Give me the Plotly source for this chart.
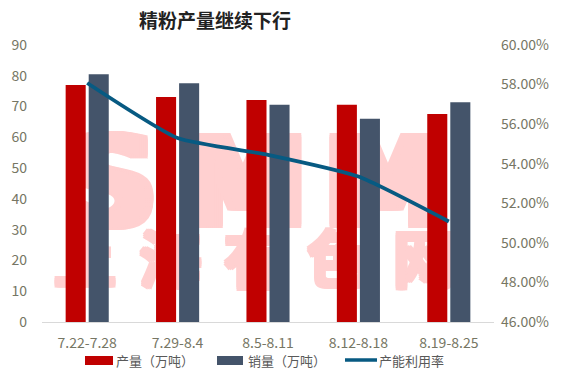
import plotly.graph_objects as go

categories = ["7.22-7.28", "7.29-8.4", "8.5-8.11", "8.12-8.18", "8.19-8.25"]
production = [77.0, 73.1, 72.1, 70.6, 67.6]
sales = [80.5, 77.6, 70.6, 66.0, 71.4]
utilization = [0.5808, 0.5530, 0.5445, 0.5335, 0.5108]

left_ticks = list(range(0, 91, 10))
right_ticks = [0.46, 0.48, 0.50, 0.52, 0.54, 0.56, 0.58, 0.60]

wm_big = ["S", "M", "M"]
wm_small = ["上", "海", "有", "色", "网"]

W, H = 570, 370
L, R, T, B = 42, 76, 45, 48
PW, PH = W - L - R, H - T - B


def px(x):
    return (x - L) / PW


def py(y):
    return (H - B - y) / PH


tick_color = "#767664"
font_cjk = "Noto Sans CJK SC"
c_prod, c_sales, c_line = "#C00000", "#44546A", "#075A82"
wm_color = "#FFD0D0"


def thick_shadow(dx, dy):
    parts = []
    for ox in range(-dx, dx + 1, 2):
        for oy in range(-dy, dy + 1, 2):
            parts.append(f"{ox}px {oy}px 0 {wm_color}")
    return ", ".join(parts)


fig = go.Figure()

# watermark on base (bottom) subplot
fig.add_trace(go.Scatter(
    x=[px(110), px(243), px(388)], y=[py(195)] * 3, mode="text", text=wm_big,
    textfont=dict(family="DejaVu Sans", size=124, color=wm_color, weight="bold",
                  shadow=thick_shadow(8, 2)),
    showlegend=False, hoverinfo="skip", xaxis="x", yaxis="y"))
fig.add_trace(go.Scatter(
    x=[px(85), px(170), px(255), px(338), px(424)], y=[py(267)] * 5, mode="text", text=wm_small,
    textfont=dict(family=font_cjk, size=62, color=wm_color, weight="bold",
                  shadow=thick_shadow(2, 2)),
    showlegend=False, hoverinfo="skip", xaxis="x", yaxis="y"))

fig.add_trace(go.Bar(x=categories, y=production, name="产量（万吨）",
                     marker=dict(color=c_prod, line=dict(width=0)),
                     xaxis="x2", yaxis="y2", showlegend=False))
fig.add_trace(go.Bar(x=categories, y=sales, name="销量（万吨）",
                     marker=dict(color=c_sales, line=dict(width=0)),
                     xaxis="x2", yaxis="y2", showlegend=False))
fig.add_trace(go.Scatter(x=categories, y=utilization, name="产能利用率",
                         mode="lines", line=dict(color=c_line, width=3.8, shape="spline", smoothing=0.5),
                         xaxis="x2", yaxis="y3", showlegend=False))

# custom legend (wide swatches like the reference)
shapes = [
    dict(type="rect", xref="paper", yref="paper", x0=px(85), x1=px(113), y0=py(365), y1=py(356),
         fillcolor=c_prod, line=dict(width=0)),
    dict(type="rect", xref="paper", yref="paper", x0=px(217), x1=px(243), y0=py(365), y1=py(356),
         fillcolor=c_sales, line=dict(width=0)),
    dict(type="line", xref="paper", yref="paper", x0=px(345), x1=px(377), y0=py(360), y1=py(360),
         line=dict(color=c_line, width=3.5)),
]
legend_font = dict(family=font_cjk, size=13, color="#595959")
annotations = [
    dict(text="产量（万吨）", x=px(114), y=py(360), xref="paper", yref="paper",
         xanchor="left", yanchor="middle", showarrow=False, font=legend_font),
    dict(text="销量（万吨）", x=px(246), y=py(360), xref="paper", yref="paper",
         xanchor="left", yanchor="middle", showarrow=False, font=legend_font),
    dict(text="产能利用率", x=px(377), y=py(360), xref="paper", yref="paper",
         xanchor="left", yanchor="middle", showarrow=False, font=legend_font),
]

fig.update_layout(
    width=W, height=H,
    margin=dict(l=L, r=R, t=T, b=B),
    paper_bgcolor="white", plot_bgcolor="white",
    barmode="group", bargap=0.49, bargroupgap=0.13,
    showlegend=False,
    title=dict(text="<b>精粉产量继续下行</b>", x=139 / W, xanchor="left",
               y=1 - 21 / H, yanchor="middle", yref="container",
               font=dict(family=font_cjk, size=19, color="#222222")),
    xaxis=dict(range=[0, 1], visible=False, fixedrange=True),
    yaxis=dict(range=[0, 1], visible=False, fixedrange=True),
    xaxis2=dict(overlaying="x", type="category", showline=True, linecolor="#D9D9D9", linewidth=1,
                showgrid=False, ticks="", automargin=False, ticklabelstandoff=8,
                tickfont=dict(family=font_cjk, size=14, color=tick_color)),
    yaxis2=dict(overlaying="y", side="left", range=[0, 90], tickvals=left_ticks, showgrid=False,
                zeroline=False, showline=False, ticks="", ticklabelstandoff=14, automargin=False,
                tickfont=dict(family=font_cjk, size=14, color=tick_color)),
    yaxis3=dict(overlaying="y", side="right", range=[0.46, 0.60], tickvals=right_ticks,
                tickformat=".2%", showgrid=False, zeroline=False, showline=False, ticks="",
                ticklabelstandoff=6, automargin=False,
                tickfont=dict(family=font_cjk, size=14, color=tick_color)),
    shapes=shapes,
    annotations=annotations,
)

fig.write_html("out.html", config={"displayModeBar": False},
               post_script="document.body.style.margin='0';")
